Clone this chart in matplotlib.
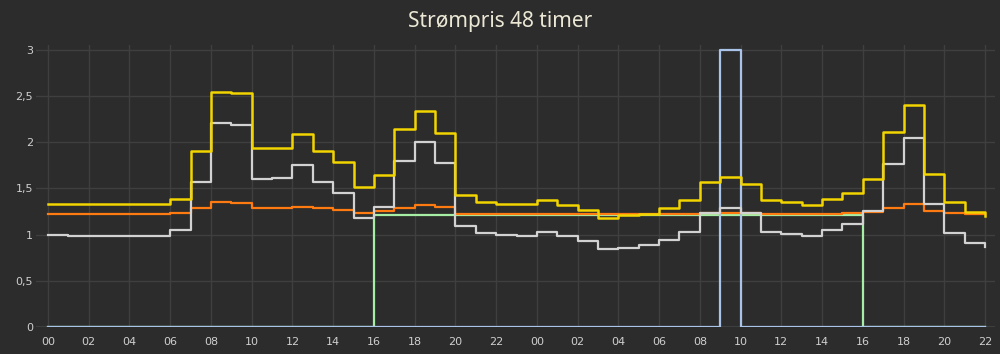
#!/usr/bin/env python3
"""Strømpris 48 timer - step chart of hourly electricity prices."""
import matplotlib
matplotlib.use("Agg")
import matplotlib.pyplot as plt

# hours 0..46 over two days
hours = list(range(47))
tick_hours = list(range(0, 47, 2))
tick_labels = [f"{h % 24:02d}" for h in tick_hours]
y_ticks = [0, 0.5, 1, 1.5, 2, 2.5, 3]
y_labels = ["0", "0,5", "1", "1,5", "2", "2,5", "3"]

# total price (yellow)
total = [1.33, 1.33, 1.33, 1.33, 1.33, 1.33, 1.39, 1.91, 2.55, 2.53,
         1.94, 1.94, 2.09, 1.91, 1.79, 1.52, 1.65, 2.14, 2.34, 2.10,
         1.43, 1.35, 1.33, 1.33, 1.37, 1.32, 1.27, 1.18, 1.21, 1.22,
         1.29, 1.37, 1.57, 1.62, 1.55, 1.37, 1.35, 1.32, 1.39, 1.45,
         1.60, 2.11, 2.40, 1.66, 1.35, 1.25, 1.20]
# spot price (grey)
spot = [1.00, 0.985, 0.985, 0.985, 0.985, 0.985, 1.05, 1.57, 2.21, 2.19,
        1.60, 1.61, 1.75, 1.57, 1.45, 1.18, 1.30, 1.80, 2.00, 1.78,
        1.09, 1.02, 1.00, 0.99, 1.03, 0.99, 0.93, 0.845, 0.86, 0.89,
        0.94, 1.03, 1.24, 1.29, 1.24, 1.03, 1.01, 0.985, 1.05, 1.12,
        1.26, 1.77, 2.05, 1.33, 1.02, 0.91, 0.87]
# average (orange)
average = [1.22, 1.22, 1.22, 1.22, 1.22, 1.22, 1.23, 1.285, 1.35, 1.34,
           1.285, 1.29, 1.30, 1.285, 1.27, 1.24, 1.26, 1.29, 1.32, 1.30,
           1.22, 1.22, 1.22, 1.22, 1.22, 1.22, 1.22, 1.22, 1.22, 1.22,
           1.22, 1.22, 1.24, 1.24, 1.24, 1.22, 1.22, 1.22, 1.22, 1.23,
           1.25, 1.29, 1.33, 1.26, 1.23, 1.22, 1.22]
# fixed price window (green)
fixed = [0.0] * 16 + [1.21] * 24 + [0.0] * 7
# cheapest hour marker (blue)
cheapest = [0.0] * 33 + [3.0] + [0.0] * 13

BG = "#2c2c2c"
GRID = "#3f3f3f"

fig = plt.figure(figsize=(10, 3.54), dpi=100, facecolor=BG)
ax = fig.add_axes([0.0358, 0.0763, 0.9594, 0.7955], facecolor=BG)

ax.step(hours, fixed, where="post", color="#a6eea6", lw=1.6, zorder=2)
ax.step(hours, cheapest, where="post", color="#a9c4e8", lw=1.6, zorder=3)
ax.step(hours, average, where="post", color="#ff7a10", lw=1.6, zorder=4)
ax.step(hours, spot, where="post", color="#d2d2d2", lw=1.6, zorder=5)
ax.step(hours, total, where="post", color="#f2d400", lw=1.8, zorder=6)

ax.set_xlim(-0.6, 46.5)
ax.set_ylim(0, 3.05)
ax.set_xticks(tick_hours)
ax.set_xticklabels(tick_labels)
ax.set_yticks(y_ticks)
ax.set_yticklabels(y_labels)
ax.tick_params(axis="both", length=0, colors="#cfcfcf", labelsize=8)
ax.tick_params(axis="x", pad=7)
ax.tick_params(axis="y", pad=2)

for h in tick_hours:
    ax.axvline(h, color=GRID, lw=1, zorder=1)
for v in y_ticks[1:]:
    ax.axhline(v, color=GRID, lw=1, zorder=1)
ax.axhline(0, color="#8a8f96", lw=1, zorder=1)

for s in ax.spines.values():
    s.set_visible(False)

fig.text(0.5, 0.94, "Strømpris 48 timer", ha="center", va="center",
         fontsize=15, color="#ece8d6", family="Noto Sans", weight="medium")

fig.savefig("out.png", dpi=100, facecolor=BG)
